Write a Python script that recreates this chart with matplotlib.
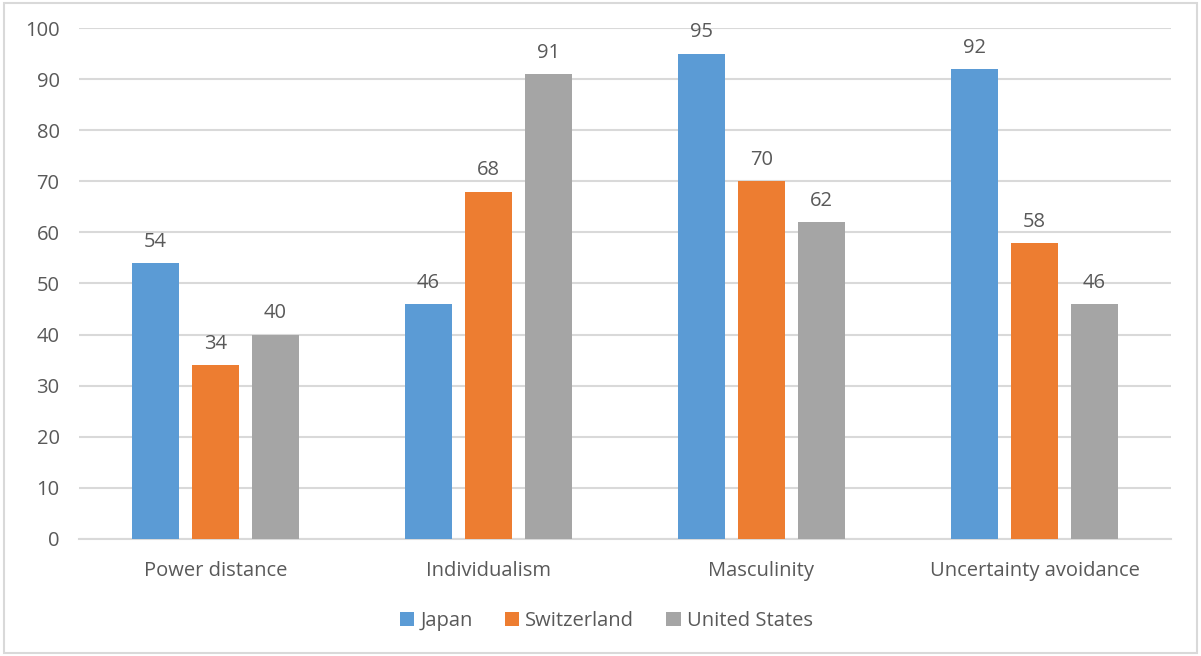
import numpy as np
import matplotlib.pyplot as plt
from matplotlib.patches import Rectangle

categories = ["Power distance", "Individualism", "Masculinity", "Uncertainty avoidance"]
series_names = ["Japan", "Switzerland", "United States"]
japan = [54, 46, 95, 92]
switzerland = [34, 68, 70, 58]
united_states = [40, 91, 62, 46]

colors = ["#5B9BD5", "#ED7D31", "#A5A5A5"]
text_color = "#595959"
fs = 14.5

plt.rcParams['font.family'] = ['Open Sans', 'DejaVu Sans']

fig = plt.figure(figsize=(12.01, 6.56), dpi=100)
ax = fig.add_axes([0.0658, 0.1784, 0.9092, 0.7789])

# light frame around the whole chart
fig.patches.append(Rectangle((0.003, 0.004), 0.994, 0.992, transform=fig.transFigure,
                             fill=False, edgecolor="#D9D9D9", linewidth=1.5))

x = np.arange(len(categories))
width = 0.172
step = 0.22
for i, (vals, name) in enumerate(zip([japan, switzerland, united_states], series_names)):
    bars = ax.bar(x + (i - 1) * step, vals, width, color=colors[i], label=name, zorder=3)
    for b, v in zip(bars, vals):
        ax.annotate(str(v), (b.get_x() + b.get_width() / 2, v), xytext=(0, 8),
                    textcoords="offset points", ha="center", va="bottom",
                    fontsize=fs, color=text_color)

ax.set_xlim(-0.5, 3.5)
ax.set_ylim(0, 100)
ax.set_yticks(range(0, 101, 10))
ax.set_xticks(x)
ax.set_xticklabels(categories)
ax.yaxis.grid(True, color="#D9D9D9", linewidth=1.5, zorder=0)
ax.tick_params(axis="both", length=0, labelsize=fs, labelcolor=text_color)
ax.tick_params(axis="y", pad=14)
ax.tick_params(axis="x", pad=16)
for s in ["top", "right", "left"]:
    ax.spines[s].set_visible(False)
ax.spines["bottom"].set_color("#D9D9D9")
ax.spines["bottom"].set_linewidth(1.5)

leg = fig.legend(loc="center", bbox_to_anchor=(0.505, 0.053), ncol=3, frameon=False,
                 fontsize=fs, handlelength=0.7, handleheight=0.7, handletextpad=0.3,
                 columnspacing=1.6)
for t in leg.get_texts():
    t.set_color(text_color)

fig.savefig("out.png", dpi=100)
